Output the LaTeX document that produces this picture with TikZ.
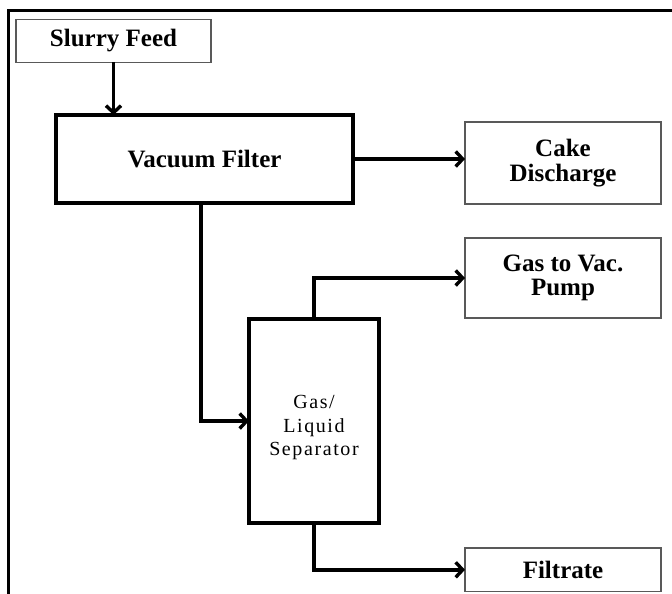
\documentclass[tikz,border=0pt]{standalone}
\usepackage{fontspec}
\setmainfont{Liberation Serif}
\newfontfamily\spacedfont[LetterSpace=8]{Liberation Serif}
\usetikzlibrary{arrows.meta}
\tikzset{
  thinbox/.style={draw=black!65, line width=1.3pt, fill=white, inner sep=0pt, outer sep=0pt,
    align=center, font=\fontsize{25}{24.5}\selectfont\bfseries},
  thickbox/.style={draw=black, line width=3.4pt, fill=white, inner sep=0pt, outer sep=0pt,
    align=center, font=\fontsize{25}{24.5}\selectfont\bfseries},
  arr/.style={line width=3.4pt, -{Straight Barb[length=7pt,width=15pt,line width=3.4pt]}},
}
\begin{document}
\begin{tikzpicture}[x=1pt,y=-1pt]
\useasboundingbox (0,0) rectangle (672,594);
\draw[line width=3pt] (8.5,594) -- (8.5,11) -- (672,11);
\node[thinbox, minimum width=195pt, minimum height=43pt] (slurry) at (113.5,40.8) {Slurry Feed};
\node[thickbox, minimum width=297pt, minimum height=88pt] (vf) at (204.5,159) {Vacuum Filter};
\node[thinbox, minimum width=196pt, minimum height=82pt] (cake) at (563,163) {Cake\\Discharge};
\node[thinbox, minimum width=196pt, minimum height=80pt] (gas) at (563,278) {Gas to Vac.\\Pump};
\node[thickbox, minimum width=130pt, minimum height=204pt, font=\fontsize{20}{23.5}\selectfont\spacedfont] (sep) at (314,421) {\rule{0pt}{27pt}Gas/\\Liquid\\Separator};
\node[thinbox, minimum width=196pt, minimum height=43.5pt] (filt) at (563,569.8) {Filtrate};
\coordinate (vfout) at (201,203);
\draw[arr] (slurry.south) -- (slurry.south |- vf.north);
\draw[arr] (vf.east) -- (vf.east -| cake.west);
\draw[arr] (vfout) |- (sep.west);
\draw[arr] (sep.north) |- (gas.west);
\draw[arr] (sep.south) |- (filt.west);
\end{tikzpicture}
\end{document}
